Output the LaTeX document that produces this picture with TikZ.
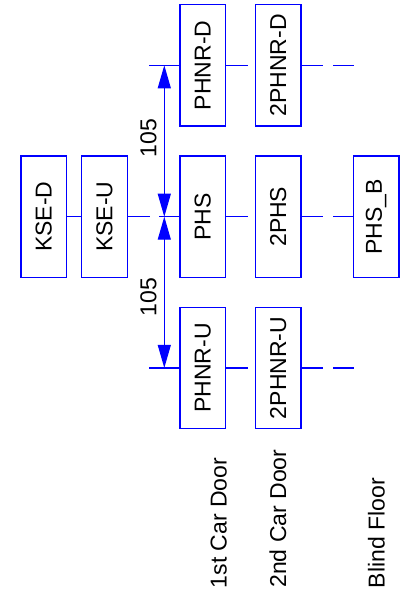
\documentclass[tikz,border=0pt]{standalone}
\usepackage{fontspec}
\setmainfont{Liberation Sans}
\usetikzlibrary{positioning, arrows.meta}
\tikzset{
    >=Stealth
}

\begin{document}
\begin{tikzpicture}[x=1pt,y=-1pt]
  % plain blue as in the drawing
  \definecolor{lineBlue}{RGB}{0,0,255}

  % common styles for boxes and lines
  \tikzset{
    unit/.style={
      draw=lineBlue,
      line width=1.4pt,
      fill=white,
      minimum width=45.7pt,
      minimum height=121.3pt,
      inner sep=0pt,
      font=\fontsize{23}{27}\selectfont
    },
    rail/.style={draw=lineBlue, line width=1.2pt},
    railgap/.style={rail, dash pattern=on 21.7pt off 9.6pt},
    dim/.style={draw=lineBlue, line width=1.2pt,
      {Triangle[length=23pt,width=13pt]}-{Triangle[length=23pt,width=13pt]}},
    caption/.style={rotate=90, anchor=base west, inner sep=0pt,
      font=\fontsize{23}{27}\selectfont}
  }

  \useasboundingbox (0,0) rectangle (414,595);

  % upper row (door open side)
  \node[unit] (phnrd)  at (202.8,65.3) {\rotatebox{90}{PHNR-D}};
  \node[unit] (phnrd2) at (278.2,65.3) {\rotatebox{90}{2PHNR-D}};

  % middle row (level)
  \node[unit] (ksed) at (43.8,216.7)  {\rotatebox{90}{KSE-D}};
  \node[unit] (kseu) at (104.5,216.7) {\rotatebox{90}{KSE-U}};
  \node[unit] (phs)  at (202.8,216.7) {\rotatebox{90}{PHS}};
  \node[unit] (phs2) at (278.2,216.7) {\rotatebox{90}{2PHS}};
  \node[unit] (phsb) at (376.2,216.7) {\rotatebox{90}{PHS\_B}};

  % lower row
  \node[unit] (phnru)  at (202.8,367.9) {\rotatebox{90}{PHNR-U}};
  \node[unit] (phnru2) at (278.2,367.9) {\rotatebox{90}{2PHNR-U}};

  % free ends of the rails
  \coordinate (topL) at (149.3,65.3);
  \coordinate (topR) at (354,65.3);
  \coordinate (lowL) at (149.3,367.9);
  \coordinate (lowR) at (354,367.9);

  \draw[rail] (topL) -- (phnrd.west);
  \draw[railgap] (phnrd.east) -- (phnrd2.west);
  \draw[railgap] (phnrd2.east) -- (topR);

  \draw[rail] (ksed.east) -- (kseu.west);
  \draw[railgap] (kseu.east) -- (phs.west);
  \draw[railgap] (phs.east) -- (phs2.west);
  \draw[railgap] (phs2.east) -- (phsb.west);

  \draw[rail] (lowL) -- (phnru.west);
  \draw[railgap] (phnru.east) -- (phnru2.west);
  \draw[railgap] (phnru2.east) -- (lowR);

  % dimension arrows
  \coordinate (dimTop) at (164.3,65.3);
  \coordinate (dimMid) at (164.3,216.7);
  \coordinate (dimLow) at (164.3,367.9);

  \draw[dim] (dimTop) -- node[pos=0.48, rotate=90, anchor=south, inner sep=7pt,
    font=\fontsize{23}{27}\selectfont] (dimUp) {105} (dimMid);
  \draw[dim] (dimMid) -- node[pos=0.53, rotate=90, anchor=south, inner sep=7pt,
    font=\fontsize{23}{27}\selectfont] (dimDown) {105} (dimLow);

  % column captions
  \node[caption] (door1) at (226.5,588.3) {1st Car Door};
  \node[caption] (door2) at (286,587.8)   {2nd Car Door};
  \node[caption] (blind) at (384.5,588.3) {Blind Floor};
\end{tikzpicture}
\end{document}
